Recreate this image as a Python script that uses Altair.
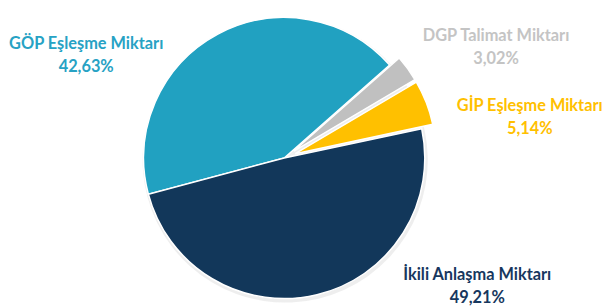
import math
import altair as alt
import pandas as pd

# ---- data ----
categories = ["GÖP Eşleşme Miktarı", "DGP Talimat Miktarı", "GİP Eşleşme Miktarı", "İkili Anlaşma Miktarı"]
shares = [42.63, 3.02, 5.14, 49.21]
share_labels = ["42,63%", "3,02%", "5,14%", "49,21%"]
exploded = ["DGP Talimat Miktarı", "GİP Eşleşme Miktarı"]

# ---- styles / layout ----
slice_colors = ["#21A1C1", "#C0C0C0", "#FFC000", "#12375A"]
text_colors = ["#27A2C4", "#C4C4C4", "#FFC000", "#17375E"]
start_deg = 255.1
cx, cy, R = 279, 136, 142
explode_px = 12
label_pos = {  # (x, y) centre of first text line in plot coords
    "GÖP Eşleşme Miktarı": (79, 21),
    "DGP Talimat Miktarı": (493, 13),
    "GİP Eşleşme Miktarı": (527, 84),
    "İkili Anlaşma Miktarı": (474, 254),
}
line_gap = 23
font = "Lato"
fsize = 16.5

df = pd.DataFrame({"cat": categories, "share": shares, "pct": share_labels,
                   "order": list(range(len(categories)))})

start = math.radians(start_deg)
theta = alt.Theta("share:Q", stack=True,
                  scale=alt.Scale(range=[start, start + 2 * math.pi]))
color = alt.Color("cat:N", scale=alt.Scale(domain=categories, range=slice_colors), legend=None)
order = alt.Order("order:Q")

base = alt.Chart(df)

shadow = base.mark_arc(radius=R + 2, color="#d9d9d9", opacity=0.45).encode(
    theta=theta, order=order, x=alt.value(cx + 1), y=alt.value(cy + 2))

main = base.mark_arc(radius=R, stroke="white", strokeWidth=1.5).encode(
    theta=theta, order=order, color=color,
    x=alt.value(cx), y=alt.value(cy),
    opacity=alt.condition(alt.FieldOneOfPredicate(field="cat", oneOf=exploded),
                          alt.value(0), alt.value(1)))

# offsets of exploded slices derived from the data (mid-angle direction)
total = sum(shares)
layers = [shadow, main]
acc = 0.0
for cat, s in zip(categories, shares):
    mid = start + 2 * math.pi * (acc + s / 2) / total
    acc += s
    if cat in exploded:
        dx = explode_px * math.sin(mid)
        dy = -explode_px * math.cos(mid)
        layers.append(base.mark_arc(radius=R, stroke="white", strokeWidth=1.5,
                                    xOffset=dx, yOffset=dy).encode(
            theta=theta, order=order, color=color,
            x=alt.value(cx), y=alt.value(cy),
            opacity=alt.condition(alt.datum.cat == cat, alt.value(1), alt.value(0))))

for cat, tc in zip(categories, text_colors):
    lx, ly = label_pos[cat]
    t = base.transform_filter(alt.datum.cat == cat)
    layers.append(t.mark_text(font=font, fontSize=fsize, fontWeight="bold", color=tc,
                              align="center", baseline="middle").encode(
        x=alt.value(lx), y=alt.value(ly), text="cat:N"))
    layers.append(t.mark_text(font=font, fontSize=fsize, fontWeight="bold", color=tc,
                              align="center", baseline="middle").encode(
        x=alt.value(lx), y=alt.value(ly + line_gap), text="pct:N"))

chart = alt.layer(*layers).properties(
    width=595, height=290,
    padding={"left": 0, "top": 0, "right": 0, "bottom": 0},
).configure_view(stroke=None)

chart.save("out.html", embed_options={"renderer": "svg", "actions": False})
